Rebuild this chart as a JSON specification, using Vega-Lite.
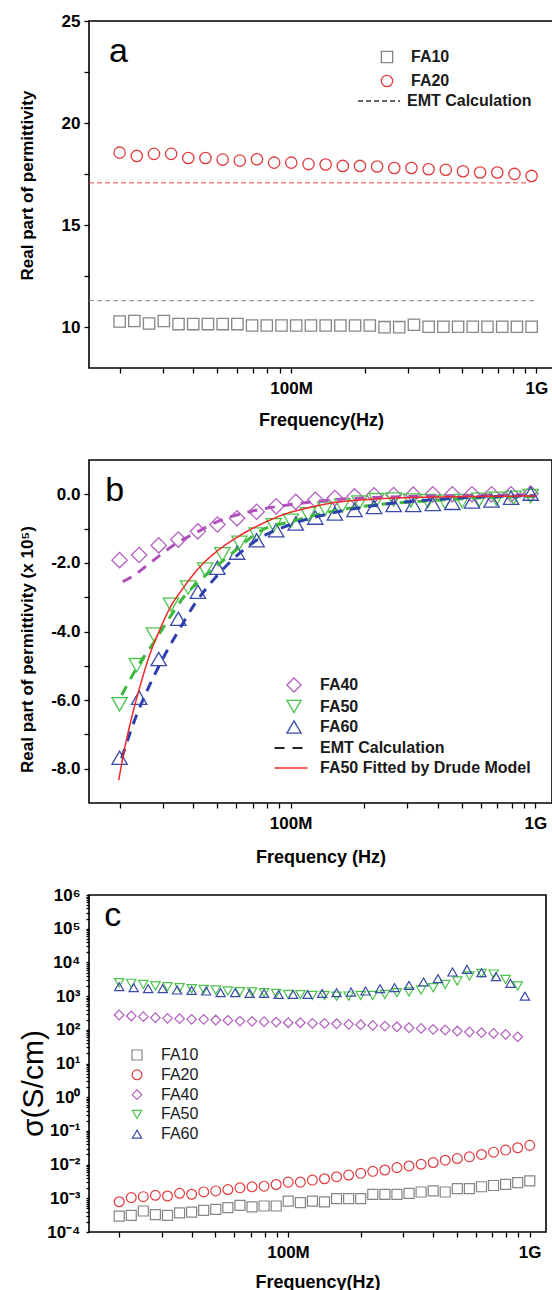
{
  "$schema": "https://vega.github.io/schema/vega-lite/v6.json",
  "background": "white",
  "padding": {"left": 17, "top": 11, "right": 0, "bottom": 0},
  "config": {
    "font": "Liberation Sans",
    "view": {"stroke": "black", "strokeWidth": 1.6},
    "axis": {"domain": false, "grid": false, "ticks": true, "tickColor": "black", "tickWidth": 1.3, "tickSize": 5, "offset": 0, "labelFont": "Liberation Sans", "labelFontWeight": "bold", "labelFontSize": 17, "labelColor": "black", "titleFont": "Liberation Sans", "titleFontWeight": "bold", "titleFontSize": 18, "titleColor": "black", "labelOverlap": false, "labelFlush": false, "labelBound": false},
    "legend": {"labelFont": "Liberation Sans", "labelColor": "#1a1a1a", "labelFontSize": 16, "labelLimit": 400}
  },
  "resolve": {
    "scale": {"x": "independent", "y": "independent", "color": "independent", "shape": "independent", "stroke": "independent", "strokeDash": "independent", "size": "independent"},
    "legend": {"color": "independent", "shape": "independent", "strokeDash": "independent"}
  },
  "datasets": {
    "a_pts": [
      {"f":20.00,"v":10.28,"s":"FA10"},{"f":22.96,"v":10.30,"s":"FA10"},{"f":26.37,"v":10.18,"s":"FA10"},{"f":30.28,"v":10.30,"s":"FA10"},{"f":34.76,"v":10.15,"s":"FA10"},{"f":39.91,"v":10.15,"s":"FA10"},{"f":45.82,"v":10.15,"s":"FA10"},{"f":52.61,"v":10.15,"s":"FA10"},{"f":60.41,"v":10.15,"s":"FA10"},{"f":69.36,"v":10.08,"s":"FA10"},{"f":79.62,"v":10.08,"s":"FA10"},{"f":91.42,"v":10.08,"s":"FA10"},{"f":104.96,"v":10.08,"s":"FA10"},{"f":120.5,"v":10.08,"s":"FA10"},{"f":138.4,"v":10.08,"s":"FA10"},{"f":158.9,"v":10.08,"s":"FA10"},{"f":182.4,"v":10.08,"s":"FA10"},{"f":209.4,"v":10.08,"s":"FA10"},{"f":240.5,"v":10.0,"s":"FA10"},{"f":276.1,"v":10.0,"s":"FA10"},{"f":317.0,"v":10.12,"s":"FA10"},{"f":364.0,"v":10.02,"s":"FA10"},{"f":417.9,"v":10.02,"s":"FA10"},{"f":479.8,"v":10.02,"s":"FA10"},{"f":550.9,"v":10.02,"s":"FA10"},{"f":632.5,"v":10.02,"s":"FA10"},{"f":726.2,"v":10.02,"s":"FA10"},{"f":833.8,"v":10.02,"s":"FA10"},{"f":957.2,"v":10.02,"s":"FA10"},
      {"f":20.00,"v":18.55,"s":"FA20"},{"f":23.50,"v":18.39,"s":"FA20"},{"f":27.61,"v":18.49,"s":"FA20"},{"f":32.44,"v":18.49,"s":"FA20"},{"f":38.11,"v":18.29,"s":"FA20"},{"f":44.77,"v":18.29,"s":"FA20"},{"f":52.60,"v":18.21,"s":"FA20"},{"f":61.80,"v":18.16,"s":"FA20"},{"f":72.61,"v":18.23,"s":"FA20"},{"f":85.31,"v":18.06,"s":"FA20"},{"f":100.2,"v":18.06,"s":"FA20"},{"f":117.8,"v":17.99,"s":"FA20"},{"f":138.4,"v":17.97,"s":"FA20"},{"f":162.6,"v":17.90,"s":"FA20"},{"f":191.0,"v":17.90,"s":"FA20"},{"f":224.4,"v":17.87,"s":"FA20"},{"f":263.6,"v":17.80,"s":"FA20"},{"f":309.7,"v":17.80,"s":"FA20"},{"f":363.9,"v":17.74,"s":"FA20"},{"f":427.5,"v":17.71,"s":"FA20"},{"f":502.4,"v":17.64,"s":"FA20"},{"f":590.2,"v":17.58,"s":"FA20"},{"f":693.4,"v":17.58,"s":"FA20"},{"f":814.7,"v":17.51,"s":"FA20"},{"f":957.2,"v":17.41,"s":"FA20"}
    ],
    "a_emt": [
      {"f":15,"v":11.3,"s":"FA10","k":"EMT Calculation"},{"f":1000,"v":11.3,"s":"FA10","k":"EMT Calculation"},
      {"f":15,"v":17.07,"s":"FA20","k":"EMT Calculation"},{"f":940,"v":17.07,"s":"FA20","k":"EMT Calculation"}
    ],
    "a_txt": [{"f":19.8,"v":23.0,"t":"a"}],
    "b_pts": [
      {"f":20.00,"v":-1.92,"s":"FA40"},{"f":24.05,"v":-1.77,"s":"FA40"},{"f":28.91,"v":-1.49,"s":"FA40"},{"f":34.76,"v":-1.32,"s":"FA40"},{"f":41.79,"v":-1.08,"s":"FA40"},{"f":50.24,"v":-0.88,"s":"FA40"},{"f":60.41,"v":-0.70,"s":"FA40"},{"f":72.63,"v":-0.51,"s":"FA40"},{"f":87.32,"v":-0.35,"s":"FA40"},{"f":104.96,"v":-0.22,"s":"FA40"},{"f":126.2,"v":-0.16,"s":"FA40"},{"f":151.7,"v":-0.11,"s":"FA40"},{"f":182.4,"v":-0.06,"s":"FA40"},{"f":219.3,"v":-0.03,"s":"FA40"},{"f":263.6,"v":-0.02,"s":"FA40"},{"f":317.0,"v":-0.01,"s":"FA40"},{"f":381.1,"v":0.0,"s":"FA40"},{"f":458.2,"v":0.0,"s":"FA40"},{"f":550.9,"v":0.0,"s":"FA40"},{"f":662.3,"v":0.0,"s":"FA40"},{"f":796.2,"v":0.0,"s":"FA40"},{"f":957.2,"v":0.02,"s":"FA40"},
      {"f":20.00,"v":-6.12,"s":"FA50"},{"f":23.50,"v":-4.98,"s":"FA50"},{"f":27.61,"v":-4.09,"s":"FA50"},{"f":32.44,"v":-3.22,"s":"FA50"},{"f":38.11,"v":-2.72,"s":"FA50"},{"f":44.77,"v":-2.19,"s":"FA50"},{"f":52.60,"v":-1.75,"s":"FA50"},{"f":61.80,"v":-1.41,"s":"FA50"},{"f":72.61,"v":-1.17,"s":"FA50"},{"f":85.31,"v":-0.90,"s":"FA50"},{"f":100.2,"v":-0.77,"s":"FA50"},{"f":117.8,"v":-0.58,"s":"FA50"},{"f":138.4,"v":-0.42,"s":"FA50"},{"f":162.6,"v":-0.33,"s":"FA50"},{"f":191.0,"v":-0.24,"s":"FA50"},{"f":224.4,"v":-0.17,"s":"FA50"},{"f":263.6,"v":-0.15,"s":"FA50"},{"f":309.7,"v":-0.18,"s":"FA50"},{"f":363.9,"v":-0.20,"s":"FA50"},{"f":427.5,"v":-0.22,"s":"FA50"},{"f":502.4,"v":-0.20,"s":"FA50"},{"f":590.2,"v":-0.16,"s":"FA50"},{"f":693.4,"v":-0.13,"s":"FA50"},{"f":814.7,"v":-0.10,"s":"FA50"},{"f":957.2,"v":-0.05,"s":"FA50"},
      {"f":20.00,"v":-7.68,"s":"FA60"},{"f":24.05,"v":-5.93,"s":"FA60"},{"f":28.91,"v":-4.80,"s":"FA60"},{"f":34.76,"v":-3.63,"s":"FA60"},{"f":41.79,"v":-2.84,"s":"FA60"},{"f":50.24,"v":-2.14,"s":"FA60"},{"f":60.41,"v":-1.70,"s":"FA60"},{"f":72.63,"v":-1.34,"s":"FA60"},{"f":87.32,"v":-1.05,"s":"FA60"},{"f":104.96,"v":-0.85,"s":"FA60"},{"f":126.2,"v":-0.68,"s":"FA60"},{"f":151.7,"v":-0.56,"s":"FA60"},{"f":182.4,"v":-0.46,"s":"FA60"},{"f":219.3,"v":-0.37,"s":"FA60"},{"f":263.6,"v":-0.31,"s":"FA60"},{"f":317.0,"v":-0.31,"s":"FA60"},{"f":381.1,"v":-0.28,"s":"FA60"},{"f":458.2,"v":-0.25,"s":"FA60"},{"f":550.9,"v":-0.21,"s":"FA60"},{"f":662.3,"v":-0.18,"s":"FA60"},{"f":796.2,"v":-0.10,"s":"FA60"},{"f":957.2,"v":0.02,"s":"FA60"}
    ],
    "b_emt": [
      {"f":20.6,"v":-2.55,"s":"FA40","k":"EMT Calculation"},{"f":22.6,"v":-2.39,"s":"FA40","k":"EMT Calculation"},{"f":27.2,"v":-1.95,"s":"FA40","k":"EMT Calculation"},{"f":33.7,"v":-1.46,"s":"FA40","k":"EMT Calculation"},{"f":42,"v":-1.08,"s":"FA40","k":"EMT Calculation"},{"f":50.8,"v":-0.78,"s":"FA40","k":"EMT Calculation"},{"f":68.8,"v":-0.5,"s":"FA40","k":"EMT Calculation"},{"f":100,"v":-0.3,"s":"FA40","k":"EMT Calculation"},{"f":150,"v":-0.16,"s":"FA40","k":"EMT Calculation"},{"f":250,"v":-0.08,"s":"FA40","k":"EMT Calculation"},{"f":500,"v":-0.04,"s":"FA40","k":"EMT Calculation"},{"f":1000,"v":-0.02,"s":"FA40","k":"EMT Calculation"},
      {"f":20.4,"v":-5.85,"s":"FA50","k":"EMT Calculation"},{"f":23.8,"v":-5.0,"s":"FA50","k":"EMT Calculation"},{"f":28,"v":-4.25,"s":"FA50","k":"EMT Calculation"},{"f":32,"v":-3.6,"s":"FA50","k":"EMT Calculation"},{"f":37,"v":-2.95,"s":"FA50","k":"EMT Calculation"},{"f":42.8,"v":-2.5,"s":"FA50","k":"EMT Calculation"},{"f":57,"v":-1.75,"s":"FA50","k":"EMT Calculation"},{"f":76,"v":-1.05,"s":"FA50","k":"EMT Calculation"},{"f":100,"v":-0.8,"s":"FA50","k":"EMT Calculation"},{"f":147,"v":-0.5,"s":"FA50","k":"EMT Calculation"},{"f":215,"v":-0.32,"s":"FA50","k":"EMT Calculation"},{"f":346,"v":-0.2,"s":"FA50","k":"EMT Calculation"},{"f":612,"v":-0.1,"s":"FA50","k":"EMT Calculation"},{"f":986,"v":-0.06,"s":"FA50","k":"EMT Calculation"},
      {"f":20.4,"v":-7.7,"s":"FA60","k":"EMT Calculation"},{"f":23,"v":-6.6,"s":"FA60","k":"EMT Calculation"},{"f":26,"v":-5.7,"s":"FA60","k":"EMT Calculation"},{"f":30,"v":-4.8,"s":"FA60","k":"EMT Calculation"},{"f":35,"v":-3.95,"s":"FA60","k":"EMT Calculation"},{"f":41,"v":-3.15,"s":"FA60","k":"EMT Calculation"},{"f":47,"v":-2.6,"s":"FA60","k":"EMT Calculation"},{"f":57,"v":-1.95,"s":"FA60","k":"EMT Calculation"},{"f":74,"v":-1.3,"s":"FA60","k":"EMT Calculation"},{"f":100,"v":-0.88,"s":"FA60","k":"EMT Calculation"},{"f":147,"v":-0.55,"s":"FA60","k":"EMT Calculation"},{"f":236,"v":-0.3,"s":"FA60","k":"EMT Calculation"},{"f":460,"v":-0.12,"s":"FA60","k":"EMT Calculation"},{"f":1000,"v":-0.04,"s":"FA60","k":"EMT Calculation"}
    ],
    "b_drude": [
      {"f":19.84,"v":-8.33,"k":"FA50 Fitted by Drude Model"},{"f":21.0,"v":-7.39,"k":"FA50 Fitted by Drude Model"},{"f":22.7,"v":-6.35,"k":"FA50 Fitted by Drude Model"},{"f":24.6,"v":-5.44,"k":"FA50 Fitted by Drude Model"},{"f":26.6,"v":-4.66,"k":"FA50 Fitted by Drude Model"},{"f":28.8,"v":-4.05,"k":"FA50 Fitted by Drude Model"},{"f":32.2,"v":-3.3,"k":"FA50 Fitted by Drude Model"},{"f":36.5,"v":-2.72,"k":"FA50 Fitted by Drude Model"},{"f":42.8,"v":-2.1,"k":"FA50 Fitted by Drude Model"},{"f":50.2,"v":-1.65,"k":"FA50 Fitted by Drude Model"},{"f":58.7,"v":-1.31,"k":"FA50 Fitted by Drude Model"},{"f":68.8,"v":-1.02,"k":"FA50 Fitted by Drude Model"},{"f":80.7,"v":-0.78,"k":"FA50 Fitted by Drude Model"},{"f":94.4,"v":-0.58,"k":"FA50 Fitted by Drude Model"},{"f":110.7,"v":-0.44,"k":"FA50 Fitted by Drude Model"},{"f":152,"v":-0.24,"k":"FA50 Fitted by Drude Model"},{"f":208,"v":-0.15,"k":"FA50 Fitted by Drude Model"},{"f":393,"v":-0.08,"k":"FA50 Fitted by Drude Model"},{"f":1000,"v":-0.05,"k":"FA50 Fitted by Drude Model"}
    ],
    "b_txt": [{"f":19.1,"v":-0.2,"t":"b"}],
    "c_pts": [
      {"f":20.00,"v":0.000297,"s":"FA10"},{"f":22.44,"v":0.00031,"s":"FA10"},{"f":25.18,"v":0.00042,"s":"FA10"},{"f":28.25,"v":0.00033,"s":"FA10"},{"f":31.70,"v":0.00031,"s":"FA10"},{"f":35.57,"v":0.00037,"s":"FA10"},{"f":39.91,"v":0.00039,"s":"FA10"},{"f":44.77,"v":0.00044,"s":"FA10"},{"f":50.24,"v":0.00047,"s":"FA10"},{"f":56.37,"v":0.00053,"s":"FA10"},{"f":63.25,"v":0.00062,"s":"FA10"},{"f":70.96,"v":0.00056,"s":"FA10"},{"f":79.62,"v":0.00059,"s":"FA10"},{"f":89.34,"v":0.00059,"s":"FA10"},{"f":100.2,"v":0.00083,"s":"FA10"},{"f":112.5,"v":0.00074,"s":"FA10"},{"f":126.2,"v":0.00083,"s":"FA10"},{"f":141.6,"v":0.00078,"s":"FA10"},{"f":158.9,"v":0.00098,"s":"FA10"},{"f":178.3,"v":0.00098,"s":"FA10"},{"f":200.0,"v":0.00098,"s":"FA10"},{"f":224.4,"v":0.00131,"s":"FA10"},{"f":251.8,"v":0.00131,"s":"FA10"},{"f":282.5,"v":0.00131,"s":"FA10"},{"f":317.0,"v":0.0014,"s":"FA10"},{"f":355.7,"v":0.00154,"s":"FA10"},{"f":399.1,"v":0.00165,"s":"FA10"},{"f":447.7,"v":0.00154,"s":"FA10"},{"f":502.4,"v":0.00193,"s":"FA10"},{"f":563.7,"v":0.00193,"s":"FA10"},{"f":632.5,"v":0.0022,"s":"FA10"},{"f":709.6,"v":0.0024,"s":"FA10"},{"f":796.2,"v":0.0026,"s":"FA10"},{"f":893.4,"v":0.0029,"s":"FA10"},{"f":1002.4,"v":0.0033,"s":"FA10"},
      {"f":20.00,"v":0.00079,"s":"FA20"},{"f":22.44,"v":0.00105,"s":"FA20"},{"f":25.18,"v":0.00112,"s":"FA20"},{"f":28.25,"v":0.00123,"s":"FA20"},{"f":31.70,"v":0.00117,"s":"FA20"},{"f":35.57,"v":0.00141,"s":"FA20"},{"f":39.91,"v":0.00132,"s":"FA20"},{"f":44.77,"v":0.00155,"s":"FA20"},{"f":50.24,"v":0.00166,"s":"FA20"},{"f":56.37,"v":0.00182,"s":"FA20"},{"f":63.25,"v":0.00204,"s":"FA20"},{"f":70.96,"v":0.00219,"s":"FA20"},{"f":79.62,"v":0.00229,"s":"FA20"},{"f":89.34,"v":0.00257,"s":"FA20"},{"f":100.2,"v":0.00302,"s":"FA20"},{"f":112.5,"v":0.00302,"s":"FA20"},{"f":126.2,"v":0.00347,"s":"FA20"},{"f":141.6,"v":0.0038,"s":"FA20"},{"f":158.9,"v":0.00437,"s":"FA20"},{"f":178.3,"v":0.0049,"s":"FA20"},{"f":200.0,"v":0.0055,"s":"FA20"},{"f":224.4,"v":0.00631,"s":"FA20"},{"f":251.8,"v":0.00692,"s":"FA20"},{"f":282.5,"v":0.00813,"s":"FA20"},{"f":317.0,"v":0.00912,"s":"FA20"},{"f":355.7,"v":0.0102,"s":"FA20"},{"f":399.1,"v":0.0115,"s":"FA20"},{"f":447.7,"v":0.0135,"s":"FA20"},{"f":502.4,"v":0.0151,"s":"FA20"},{"f":563.7,"v":0.017,"s":"FA20"},{"f":632.5,"v":0.02,"s":"FA20"},{"f":709.6,"v":0.0234,"s":"FA20"},{"f":796.2,"v":0.0269,"s":"FA20"},{"f":893.4,"v":0.0316,"s":"FA20"},{"f":1002.4,"v":0.0372,"s":"FA20"},
      {"f":20.00,"v":275,"s":"FA40"},{"f":22.44,"v":257,"s":"FA40"},{"f":25.18,"v":245,"s":"FA40"},{"f":28.25,"v":229,"s":"FA40"},{"f":31.70,"v":219,"s":"FA40"},{"f":35.57,"v":214,"s":"FA40"},{"f":39.91,"v":204,"s":"FA40"},{"f":44.77,"v":204,"s":"FA40"},{"f":50.24,"v":195,"s":"FA40"},{"f":56.37,"v":190,"s":"FA40"},{"f":63.25,"v":182,"s":"FA40"},{"f":70.96,"v":178,"s":"FA40"},{"f":79.62,"v":174,"s":"FA40"},{"f":89.34,"v":170,"s":"FA40"},{"f":100.2,"v":162,"s":"FA40"},{"f":112.5,"v":162,"s":"FA40"},{"f":126.2,"v":155,"s":"FA40"},{"f":141.6,"v":155,"s":"FA40"},{"f":158.9,"v":151,"s":"FA40"},{"f":178.3,"v":145,"s":"FA40"},{"f":200.0,"v":141,"s":"FA40"},{"f":224.4,"v":135,"s":"FA40"},{"f":251.8,"v":129,"s":"FA40"},{"f":282.5,"v":123,"s":"FA40"},{"f":317.0,"v":115,"s":"FA40"},{"f":355.7,"v":110,"s":"FA40"},{"f":399.1,"v":103,"s":"FA40"},{"f":447.7,"v":98.6,"s":"FA40"},{"f":502.4,"v":92,"s":"FA40"},{"f":563.7,"v":86,"s":"FA40"},{"f":632.5,"v":82,"s":"FA40"},{"f":709.6,"v":78,"s":"FA40"},{"f":796.2,"v":73,"s":"FA40"},{"f":893.4,"v":62,"s":"FA40"},
      {"f":20.00,"v":2500,"s":"FA50"},{"f":22.44,"v":2390,"s":"FA50"},{"f":25.18,"v":2230,"s":"FA50"},{"f":28.25,"v":2000,"s":"FA50"},{"f":31.70,"v":1900,"s":"FA50"},{"f":35.57,"v":1780,"s":"FA50"},{"f":39.91,"v":1660,"s":"FA50"},{"f":44.77,"v":1580,"s":"FA50"},{"f":50.24,"v":1515,"s":"FA50"},{"f":56.37,"v":1415,"s":"FA50"},{"f":63.25,"v":1350,"s":"FA50"},{"f":70.96,"v":1320,"s":"FA50"},{"f":79.62,"v":1260,"s":"FA50"},{"f":89.34,"v":1200,"s":"FA50"},{"f":100.2,"v":1120,"s":"FA50"},{"f":112.5,"v":1100,"s":"FA50"},{"f":126.2,"v":1050,"s":"FA50"},{"f":141.6,"v":1050,"s":"FA50"},{"f":158.9,"v":1000,"s":"FA50"},{"f":178.3,"v":1000,"s":"FA50"},{"f":200.0,"v":1050,"s":"FA50"},{"f":224.4,"v":1050,"s":"FA50"},{"f":251.8,"v":1120,"s":"FA50"},{"f":282.5,"v":1260,"s":"FA50"},{"f":317.0,"v":1320,"s":"FA50"},{"f":355.7,"v":1515,"s":"FA50"},{"f":399.1,"v":1780,"s":"FA50"},{"f":447.7,"v":2230,"s":"FA50"},{"f":502.4,"v":2800,"s":"FA50"},{"f":563.7,"v":3980,"s":"FA50"},{"f":632.5,"v":4700,"s":"FA50"},{"f":709.6,"v":4500,"s":"FA50"},{"f":796.2,"v":3130,"s":"FA50"},{"f":893.4,"v":2000,"s":"FA50"},
      {"f":20.00,"v":1900,"s":"FA60"},{"f":22.96,"v":1780,"s":"FA60"},{"f":26.37,"v":1660,"s":"FA60"},{"f":30.28,"v":1660,"s":"FA60"},{"f":34.76,"v":1515,"s":"FA60"},{"f":39.91,"v":1480,"s":"FA60"},{"f":45.82,"v":1415,"s":"FA60"},{"f":52.61,"v":1260,"s":"FA60"},{"f":60.41,"v":1260,"s":"FA60"},{"f":69.36,"v":1200,"s":"FA60"},{"f":79.62,"v":1200,"s":"FA60"},{"f":91.42,"v":1120,"s":"FA60"},{"f":104.96,"v":1120,"s":"FA60"},{"f":120.5,"v":1120,"s":"FA60"},{"f":138.4,"v":1200,"s":"FA60"},{"f":158.9,"v":1260,"s":"FA60"},{"f":182.4,"v":1320,"s":"FA60"},{"f":209.4,"v":1415,"s":"FA60"},{"f":240.5,"v":1660,"s":"FA60"},{"f":276.1,"v":1780,"s":"FA60"},{"f":317.0,"v":2080,"s":"FA60"},{"f":364.0,"v":2620,"s":"FA60"},{"f":417.9,"v":3300,"s":"FA60"},{"f":479.8,"v":5190,"s":"FA60"},{"f":550.9,"v":6200,"s":"FA60"},{"f":632.5,"v":4940,"s":"FA60"},{"f":726.2,"v":3780,"s":"FA60"},{"f":833.8,"v":2390,"s":"FA60"},{"f":957.2,"v":1000,"s":"FA60"}
    ],
    "c_txt": [{"f":18.8,"v":120000,"t":"c"}]
  },
  "spacing": 92,
  "bounds": "flush",
  "vconcat": [
    {
      "width": 464,
      "height": 347,
      "encoding": {
        "x": {"field": "f", "type": "quantitative", "scale": {"type": "log", "domain": [15, 1170]},
          "axis": {"title": "Frequency(Hz)", "values": [20,30,40,50,60,70,80,90,100,200,300,400,500,600,700,800,900,1000],
            "labelExpr": "datum.value == 100 ? '100M' : (datum.value == 1000 ? '1G' : '')",
            "labelPadding": 7, "titleY": 57, "titleBaseline": "alphabetic"}},
        "y": {"field": "v", "type": "quantitative", "scale": {"domain": [8, 25], "nice": false, "zero": false},
          "axis": {"title": "Real part of permittivity", "titleFontSize": 17, "values": [10,12.5,15,17.5,20,22.5,25],
            "labelExpr": "datum.value % 5 == 0 ? format(datum.value, 'd') : ''",
            "labelPadding": 4, "titleX": -62, "titleY": 164, "titleBaseline": "middle", "titleAlign": "center"}}
      },
      "layer": [
        {
          "data": {"name": "a_pts"},
          "mark": {"type": "point", "filled": false, "size": 128, "strokeWidth": 1.3, "opacity": 1},
          "encoding": {
            "color": {"field": "s", "type": "nominal", "scale": {"domain": ["FA10", "FA20"], "range": ["#858585", "#e23b3f"]},
              "legend": {"title": null, "orient": "none", "legendX": 290, "legendY": 28, "symbolSize": 128, "symbolStrokeWidth": 1.3, "labelFontWeight": "bold", "labelOffset": 16, "rowPadding": 6}},
            "shape": {"field": "s", "type": "nominal", "scale": {"domain": ["FA10", "FA20"], "range": ["square", "circle"]},
              "legend": {"title": null, "orient": "none", "legendX": 290, "legendY": 28, "symbolSize": 128, "symbolStrokeWidth": 1.3, "labelFontWeight": "bold", "labelOffset": 16, "rowPadding": 6}}
          }
        },
        {
          "data": {"name": "a_emt"},
          "mark": {"type": "line", "strokeWidth": 1, "clip": true},
          "encoding": {
            "stroke": {"field": "s", "type": "nominal", "scale": {"domain": ["FA10", "FA20"], "range": ["#8c8c8c", "#e0454a"]}, "legend": null},
            "strokeDash": {"field": "k", "type": "nominal", "scale": {"domain": ["EMT Calculation"], "range": [[5, 3]]},
              "legend": {"title": null, "orient": "none", "legendX": 281, "legendY": 71, "symbolType": "M-2.625,0H2.625", "symbolSize": 256, "symbolStrokeWidth": 1.3, "labelFontWeight": "bold", "labelOffset": 19,
                "encode": {"symbols": {"update": {"stroke": {"value": "#333333"}, "strokeDash": {"value": [7, 4]}}}}}}
          }
        },
        {
          "data": {"name": "a_txt"},
          "mark": {"type": "text", "fontSize": 34, "font": "Liberation Sans", "align": "center", "baseline": "alphabetic", "color": "black"},
          "encoding": {"text": {"field": "t"}}
        }
      ]
    },
    {
      "width": 463,
      "height": 343,
      "encoding": {
        "x": {"field": "f", "type": "quantitative", "scale": {"type": "log", "domain": [15, 1170]},
          "axis": {"title": "Frequency (Hz)", "values": [20,30,40,50,60,70,80,90,100,200,300,400,500,600,700,800,900,1000],
            "labelExpr": "datum.value == 100 ? '100M' : (datum.value == 1000 ? '1G' : '')",
            "labelPadding": 7, "titleY": 59, "titleBaseline": "alphabetic"}},
        "y": {"field": "v", "type": "quantitative", "scale": {"domain": [-9, 1], "nice": false, "zero": false},
          "axis": {"title": "Real part of permittivity (x 10⁵)", "titleFontSize": 17, "values": [-8,-7,-6,-5,-4,-3,-2,-1,0],
            "labelExpr": "datum.value % 2 == 0 ? (datum.value < 0 ? '-' : '') + format(abs(datum.value), '.1f') : ''",
            "labelPadding": 4, "titleX": -62, "titleY": 189, "titleBaseline": "middle", "titleAlign": "center"}}
      },
      "layer": [
        {
          "data": {"name": "b_pts"},
          "mark": {"type": "point", "filled": false, "size": 235, "strokeWidth": 1.3, "opacity": 1},
          "encoding": {
            "color": {"field": "s", "type": "nominal", "scale": {"domain": ["FA40", "FA50", "FA60"], "range": ["#b35fc0", "#4cc44c", "#3a4aa8"]},
              "legend": {"title": null, "orient": "none", "legendX": 197, "legendY": 217, "symbolSize": 200, "symbolStrokeWidth": 1.3, "labelFontWeight": "bold", "labelOffset": 18, "rowPadding": 2.5}},
            "shape": {"field": "s", "type": "nominal", "scale": {"domain": ["FA40", "FA50", "FA60"], "range": ["diamond", "triangle-down", "triangle-up"]},
              "legend": {"title": null, "orient": "none", "legendX": 197, "legendY": 217, "symbolSize": 200, "symbolStrokeWidth": 1.3, "labelFontWeight": "bold", "labelOffset": 18, "rowPadding": 2.5}}
          }
        },
        {
          "data": {"name": "b_emt"},
          "mark": {"type": "line", "strokeWidth": 3, "interpolate": "monotone", "clip": true},
          "encoding": {
            "stroke": {"field": "s", "type": "nominal", "scale": {"domain": ["FA40", "FA50", "FA60"], "range": ["#b050bb", "#3cb83c", "#2e40b0"]}, "legend": null},
            "strokeDash": {"field": "k", "type": "nominal", "scale": {"domain": ["EMT Calculation", "FA50 Fitted by Drude Model"], "range": [[10, 8], [1, 0]]},
              "legend": {"title": null, "orient": "none", "legendX": 194, "legendY": 280, "symbolType": "M-2.06,0H2.06", "symbolSize": 256, "symbolStrokeWidth": 2, "labelFontWeight": "bold", "labelOffset": 21, "rowPadding": 4,
                "encode": {"symbols": {"update": {"stroke": {"signal": "datum.value == 'EMT Calculation' ? '#222222' : '#ee2a2a'"}, "strokeDash": {"signal": "datum.value == 'EMT Calculation' ? [7, 5] : [1, 0]"}, "strokeWidth": {"signal": "datum.value == 'EMT Calculation' ? 2 : 1.6"}}}}}}
          }
        },
        {
          "data": {"name": "b_drude"},
          "mark": {"type": "line", "strokeWidth": 1.5, "color": "#ee2a2a", "interpolate": "monotone", "clip": true},
          "encoding": {
            "strokeDash": {"field": "k", "type": "nominal"}
          }
        },
        {
          "data": {"name": "b_txt"},
          "mark": {"type": "text", "fontSize": 34, "font": "Liberation Sans", "align": "center", "baseline": "alphabetic", "color": "black"},
          "encoding": {"text": {"field": "t"}}
        }
      ]
    },
    {
      "width": 457,
      "height": 337,
      "encoding": {
        "x": {"field": "f", "type": "quantitative", "scale": {"type": "log", "domain": [15, 1170]},
          "axis": {"title": "Frequency(Hz)", "values": [20,30,40,50,60,70,80,90,100,200,300,400,500,600,700,800,900,1000],
            "labelExpr": "datum.value == 100 ? '100M' : (datum.value == 1000 ? '1G' : '')",
            "labelPadding": 7, "titleY": 55, "titleBaseline": "alphabetic"}},
        "y": {"field": "v", "type": "quantitative", "scale": {"type": "log", "domain": [0.0001, 1000000], "nice": false},
          "axis": {"title": "σ(S/cm)", "titleFontWeight": "normal", "titleFontSize": 30, "tickSize": 3,
            "values": [0.0001,0.0002,0.0003,0.0004,0.0005,0.0006,0.0007,0.0008,0.0009,0.001,0.002,0.003,0.004,0.005,0.006,0.007,0.008,0.009,0.01,0.02,0.03,0.04,0.05,0.06,0.07,0.08,0.09,0.1,0.2,0.3,0.4,0.5,0.6,0.7,0.8,0.9,1,2,3,4,5,6,7,8,9,10,20,30,40,50,60,70,80,90,100,200,300,400,500,600,700,800,900,1000,2000,3000,4000,5000,6000,7000,8000,9000,10000,20000,30000,40000,50000,60000,70000,80000,90000,100000,200000,300000,400000,500000,600000,700000,800000,900000,1000000],
            "labelExpr": "abs(log(datum.value)/LN10 - round(log(datum.value)/LN10)) < 0.001 ? '10' + ['⁻⁴','⁻³','⁻²','⁻¹','⁰','¹','²','³','⁴','⁵','⁶'][round(log(datum.value)/LN10) + 4] : ''",
            "labelPadding": 6, "titleX": -56, "titleY": 188, "titleBaseline": "middle", "titleAlign": "center"}}
      },
      "layer": [
        {
          "data": {"name": "c_pts"},
          "mark": {"type": "point", "filled": false, "strokeWidth": 1.2, "opacity": 1},
          "encoding": {
            "color": {"field": "s", "type": "nominal", "scale": {"domain": ["FA10", "FA20", "FA40", "FA50", "FA60"], "range": ["#858585", "#e23b3f", "#b35fc0", "#4cc44c", "#3a4aa8"]},
              "legend": {"title": null, "orient": "none", "legendX": 40, "legendY": 152, "symbolSize": 80, "symbolStrokeWidth": 1.2, "labelFontWeight": "normal", "labelOffset": 16, "rowPadding": 3.8}},
            "shape": {"field": "s", "type": "nominal", "scale": {"domain": ["FA10", "FA20", "FA40", "FA50", "FA60"], "range": ["square", "circle", "diamond", "triangle-down", "triangle-up"]},
              "legend": {"title": null, "orient": "none", "legendX": 40, "legendY": 152, "symbolSize": 80, "symbolStrokeWidth": 1.2, "labelFontWeight": "normal", "labelOffset": 16, "rowPadding": 3.8}},
            "size": {"field": "s", "type": "nominal", "scale": {"domain": ["FA10", "FA20", "FA40", "FA50", "FA60"], "range": [100, 85, 165, 180, 180]}, "legend": null}
          }
        },
        {
          "data": {"name": "c_txt"},
          "mark": {"type": "text", "fontSize": 34, "font": "Liberation Sans", "align": "center", "baseline": "alphabetic", "color": "black"},
          "encoding": {"text": {"field": "t"}}
        }
      ]
    }
  ]
}
